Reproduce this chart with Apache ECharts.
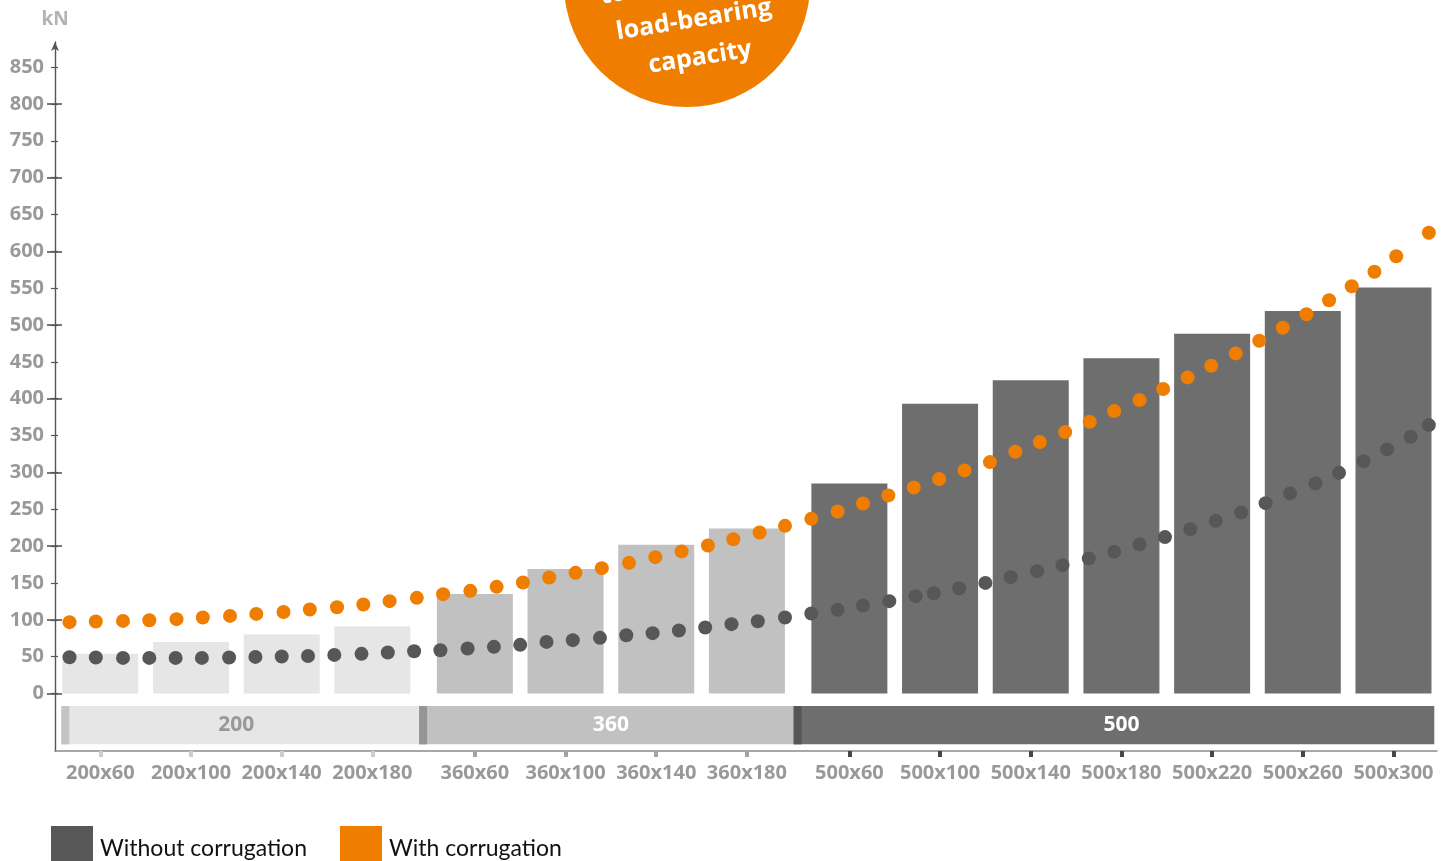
<!DOCTYPE html>
<html>
<head>
<meta charset="utf-8">
<title>Load-bearing capacity</title>
<script src="https://cdn.jsdelivr.net/npm/echarts@6/dist/echarts.min.js"></script>
<style>
  html, body { margin: 0; padding: 0; background: #fff; }
  #main { width: 1453px; height: 861px; }
</style>
</head>
<body>
<div id="main"></div>
<script>
// profile sizes and bar heights (kN)
var categories = ['200x60', '200x100', '200x140', '200x180', '360x60', '360x100', '360x140', '360x180',
  '500x60', '500x100', '500x140', '500x180', '500x220', '500x260', '500x300'];
var barValues = [54, 70, 80, 91, 135, 169, 202, 224, 285, 393, 425, 455, 488, 519, 551];
var groupNames = ['200', '360', '500'];
var yTicks = [0, 50, 100, 150, 200, 250, 300, 350, 400, 450, 500, 550, 600, 650, 700, 750, 800, 850];

// dotted curves, x in category slots
var withoutX = [-0.34, -0.05, 0.25, 0.54, 0.83, 1.12, 1.42, 1.71, 2.00, 2.29, 2.58, 2.88, 3.17, 3.46, 3.75, 4.05, 4.34, 4.63,
  4.92, 5.21, 5.51, 5.80, 6.09, 6.38, 6.67, 6.96, 7.25, 7.55, 7.84, 8.13, 8.41, 8.70, 8.99, 9.19, 9.47, 9.76,
  10.04, 10.33, 10.61, 10.90, 11.18, 11.46, 11.74, 12.02, 12.30, 12.58, 12.85, 13.12, 13.40, 13.66, 13.93, 14.19, 14.45, 14.65];
var withoutY = [49.3, 48.9, 48.3, 48.3, 48.3, 48.3, 48.9, 49.7, 50.2, 51.0, 52.4, 53.8, 55.7, 57.4, 58.8, 61.1, 63.3, 66.0,
  70.0, 72.4, 75.5, 79.1, 81.9, 85.5, 89.6, 94.1, 98.1, 103.2, 108.6, 113.5, 119.5, 125.3, 132.1, 136.1, 142.9, 150.1,
  157.9, 166.0, 174.2, 183.3, 192.2, 202.3, 212.2, 223.0, 234.3, 245.7, 258.3, 271.5, 285.1, 299.4, 315.3, 331.2, 348.3, 364.2];
var withX = [-0.34, -0.05, 0.25, 0.54, 0.84, 1.13, 1.43, 1.72, 2.02, 2.31, 2.61, 2.90, 3.19, 3.49, 3.78, 4.08, 4.37, 4.66,
  4.95, 5.24, 5.53, 5.83, 6.12, 6.41, 6.70, 6.98, 7.27, 7.55, 7.84, 8.13, 8.41, 8.69, 8.97, 9.25, 9.53, 9.81,
  10.09, 10.36, 10.64, 10.91, 11.18, 11.46, 11.72, 11.99, 12.25, 12.52, 12.78, 13.04, 13.30, 13.55, 13.80, 14.05, 14.29, 14.65];
var withY = [96.8, 97.7, 98.5, 99.5, 100.9, 103.2, 105.3, 108.0, 110.7, 114.0, 117.1, 120.8, 125.3, 129.8, 134.8, 139.3, 144.7, 150.7,
  157.5, 163.7, 170.1, 177.3, 185.0, 192.8, 200.9, 209.4, 218.5, 227.5, 237.0, 247.0, 257.9, 268.8, 279.6, 290.9, 302.7, 314.0,
  328.0, 341.1, 354.7, 368.7, 383.2, 398.1, 413.1, 428.9, 444.7, 461.5, 478.6, 496.3, 514.5, 533.5, 552.5, 572.3, 593.2, 625.2];

var groupColors = ['#e6e6e6', '#c1c1c1', '#6e6e6e'];
var capColors = ['#c4c4c4', '#959595', '#555555'];
var bandTextColors = ['#999999', '#ffffff', '#ffffff'];
var tickColors = ['#cdcdcd', '#a3a3a3', '#474747'];
var labelColor = '#999999';
var font = 'Open Sans';

var groupOf = categories.map(function (c) { return groupNames.indexOf(c.split('x')[0]); });
var catPos = categories.map(function (c, i) { return i + groupOf[i] * 0.13; });
var yMajor = yTicks.filter(function (v) { return v % 100 === 0; });

function nameAt(v) {
  for (var i = 0; i < catPos.length; i++) {
    if (Math.abs(catPos[i] - v) < 0.01) return categories[i];
  }
  return '';
}

// band below the bars: one strip per group [start, end, group, label centre]
var bandData = groupNames.map(function (g, k) {
  var idx = [];
  groupOf.forEach(function (gi, i) { if (gi === k) idx.push(i); });
  var first = idx[0], last = idx[idx.length - 1];
  var start = k === 0 ? catPos[first] - 0.43 : (catPos[first - 1] + catPos[first]) / 2 - 0.05;
  var end = k === groupNames.length - 1 ? catPos[last] + 0.45 : (catPos[last] + catPos[last + 1]) / 2 - 0.05;
  return [start, end, k, (catPos[first] + catPos[last]) / 2];
});

var chart = echarts.init(document.getElementById('main'));

var hiddenY = function (extra) {
  return Object.assign({
    type: 'value', min: -78, max: 884, position: 'left',
    axisLine: { show: false, onZero: false },
    axisLabel: { show: false },
    splitLine: { show: false }
  }, extra);
};

var tickAxis = function (k) {
  return {
    type: 'value', min: -0.5, max: 14.74, position: 'bottom',
    axisLine: { show: false, onZero: false },
    axisLabel: { show: false },
    splitLine: { show: false },
    axisTick: {
      show: true, length: 6,
      customValues: catPos.filter(function (p, i) { return groupOf[i] === k; }),
      lineStyle: { color: tickColors[k], width: 4 }
    }
  };
};

var circleText = function (txt, y) {
  return {
    type: 'text', y: y, z: 12,
    style: { text: txt, align: 'center', verticalAlign: 'middle', fill: '#fff', fontSize: 25, fontWeight: 'bold', fontFamily: font }
  };
};

var option = {
  animation: false,
  grid: { left: 55, right: 16, top: 42, bottom: 110, containLabel: false, outerBoundsMode: 'none' },
  legend: {
    data: ['Without corrugation', 'With corrugation'],
    left: 51, top: 826, icon: 'rect', padding: 0,
    itemWidth: 42, itemHeight: 35, itemGap: 33,
    selectedMode: false,
    formatter: '{t|{name}}',
    textStyle: {
      rich: { t: { fontFamily: 'Lato', fontSize: 23, color: '#111', padding: [10, 0, 0, 2] } }
    }
  },
  xAxis: [
    {
      type: 'value', min: -0.5, max: 14.74, position: 'bottom',
      axisLine: { show: true, onZero: false, lineStyle: { color: '#8a8a8a', width: 1.5 } },
      axisTick: { show: false },
      splitLine: { show: false },
      axisLabel: {
        customValues: catPos, formatter: nameAt, margin: 12,
        color: labelColor, fontSize: 20, fontWeight: 'bold', fontFamily: font
      }
    },
    tickAxis(0), tickAxis(1), tickAxis(2)
  ],
  yAxis: [
    {
      type: 'value', min: -78, max: 884, position: 'left',
      name: 'kN', nameLocation: 'end', nameGap: 13,
      nameTextStyle: { color: '#b3b3b3', fontSize: 19, fontWeight: 'bold', fontFamily: font, align: 'center', verticalAlign: 'bottom' },
      axisLine: { show: true, onZero: false, symbol: ['none', 'arrow'], symbolSize: [6, 9], lineStyle: { color: '#555', width: 1.4 } },
      axisTick: { show: true, customValues: yTicks, length: 4, lineStyle: { color: '#555', width: 1.2 } },
      axisLabel: { customValues: yTicks, margin: 11, color: labelColor, fontSize: 20, fontWeight: 'bold', fontFamily: font },
      splitLine: { show: false }
    },
    hiddenY({ axisTick: { show: true, inside: true, customValues: yTicks, length: 3, lineStyle: { color: '#555', width: 1.2 } } }),
    hiddenY({ axisTick: { show: true, customValues: yMajor, length: 8, lineStyle: { color: '#555', width: 1.6 } } }),
    hiddenY({ axisTick: { show: true, inside: true, customValues: yMajor, length: 7, lineStyle: { color: '#555', width: 1.6 } } })
  ],
  series: [
    {
      type: 'custom', name: 'band', silent: true, z: 1,
      encode: { x: [0, 1] },
      data: bandData,
      renderItem: function (params, api) {
        var x0 = api.value(0), x1 = api.value(1), k = api.value(2);
        var p0 = api.coord([x0, -17]);
        var p1 = api.coord([x1, -69]);
        var pc = api.coord([api.value(3), -43]);
        var h = p1[1] - p0[1];
        return {
          type: 'group',
          children: [
            { type: 'rect', shape: { x: p0[0], y: p0[1], width: p1[0] - p0[0], height: h }, style: { fill: groupColors[k] } },
            { type: 'rect', shape: { x: p0[0], y: p0[1], width: 8, height: h }, style: { fill: capColors[k] } },
            {
              type: 'text',
              style: {
                text: groupNames[k], x: pc[0], y: p0[1] + h / 2,
                align: 'center', verticalAlign: 'middle', fill: bandTextColors[k],
                fontSize: 21, fontWeight: 'bold', fontFamily: font
              }
            }
          ]
        };
      }
    },
    {
      type: 'bar', name: 'Profile', barWidth: 76, z: 2,
      data: catPos.map(function (p, i) {
        return { value: [p, barValues[i]], itemStyle: { color: groupColors[groupOf[i]] } };
      })
    },
    {
      type: 'scatter', name: 'Without corrugation', symbolSize: 14, z: 3,
      itemStyle: { color: '#575757', opacity: 1 },
      data: withoutX.map(function (x, i) { return [x, withoutY[i]]; })
    },
    {
      type: 'scatter', name: 'With corrugation', symbolSize: 14, z: 3,
      itemStyle: { color: '#ef7d00', opacity: 1 },
      data: withX.map(function (x, i) { return [x, withY[i]]; })
    }
  ],
  graphic: [
    { type: 'circle', shape: { cx: 687, cy: -16, r: 123 }, style: { fill: '#ef7d00' }, z: 10 },
    {
      type: 'group', x: 694, y: 20, rotation: 0.16, z: 11,
      children: [
        circleText('Up', -76),
        circleText('to 50 % higher', -38),
        circleText('load-bearing', 0),
        circleText('capacity', 38)
      ]
    }
  ]
};

chart.setOption(option);
</script>
</body>
</html>
